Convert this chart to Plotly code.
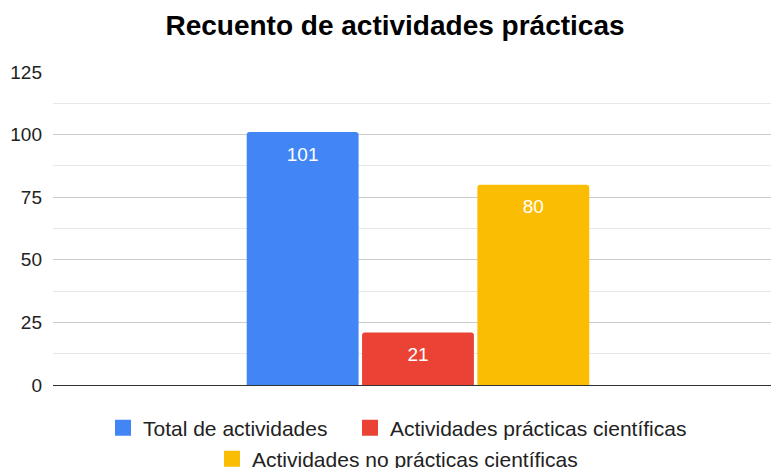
import plotly.graph_objects as go

FontName = "Liberation Sans, Arial, sans-serif"

categoria = [""]
series = ["Total de actividades", "Actividades prácticas científicas", "Actividades no prácticas científicas"]
valores = [101, 21, 80]
colores = ["#4285F4", "#EA4335", "#FBBC04"]
leyendas = ["legend", "legend2", "legend3"]
ticks_y = [0, 25, 50, 75, 100, 125]

W, H = 771, 468

fig = go.Figure()
for nombre, valor, color, ley in zip(series, valores, colores, leyendas):
    fig.add_trace(go.Bar(
        name=nombre, x=categoria, y=[valor], showlegend=False,
        marker=dict(color=color, cornerradius=3, line_width=0),
        texttemplate="<span style='font-size:1px'> </span><br>%{y}",
        textposition="inside", insidetextanchor="end",
        textfont=dict(color="white", size=19, family=FontName), hoverinfo="skip"))
    # bigger square swatch for the legend
    fig.add_trace(go.Scatter(
        name=nombre, x=[None], y=[None], mode="markers", legend=ley,
        marker=dict(symbol="square", size=16, color=color)))

LegendStyle = dict(orientation="h", xref="container", yref="container", xanchor="left",
                   yanchor="middle", font=dict(size=21, color="#222"), bgcolor="rgba(0,0,0,0)")

fig.update_layout(
    width=W, height=H, plot_bgcolor="white", paper_bgcolor="white",
    margin=dict(l=53, r=0, t=72, b=83, autoexpand=False),
    barmode="group", bargap=0.526, bargroupgap=0.03,
    title=dict(text="<b>Recuento de actividades prácticas</b>", x=395 / W, xref="container", xanchor="center",
               y=1 - 25 / H, yanchor="middle", font=dict(size=28, color="#000", family=FontName)),
    font=dict(family=FontName, color="#222"),
    legend=dict(LegendStyle, x=103 / W, y=1 - 428 / H),
    legend2=dict(LegendStyle, x=350 / W, y=1 - 428 / H),
    legend3=dict(LegendStyle, x=212 / W, y=1 - 459 / H),
    showlegend=True,
)
fig.update_yaxes(range=[0, 125], tickvals=ticks_y, showgrid=True, gridcolor="#cccccc", gridwidth=1,
                 minor=dict(dtick=12.5, showgrid=True, gridcolor="#e8e8e8"),
                 zeroline=False, tickfont=dict(size=19, color="#222"), ticklabelstandoff=10)
fig.update_xaxes(range=[-0.5, 0.4836], showline=True, linecolor="#333333", linewidth=1,
                 showticklabels=False, ticks="")

# drop the default 8px page margin so the figure fills the window
fig.write_html("out.html", config={"displayModeBar": False},
               post_script="document.body.style.margin='0';document.body.style.overflow='hidden';")
